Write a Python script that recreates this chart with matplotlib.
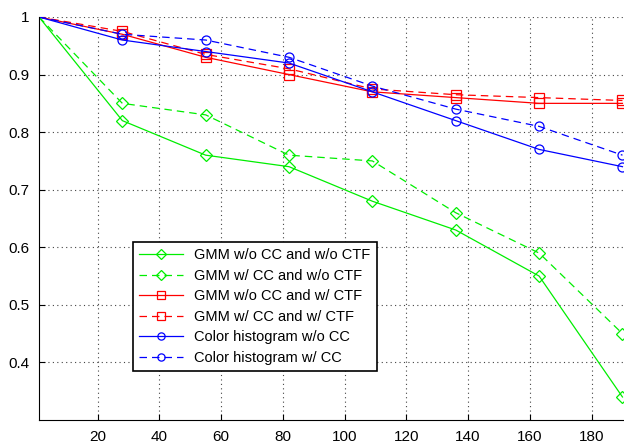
import matplotlib
matplotlib.use("Agg")
import matplotlib.pyplot as plt

x = [1, 28, 55, 82, 109, 136, 163, 190]
gmm_nocc_noctf = [1.0, 0.82, 0.76, 0.74, 0.68, 0.63, 0.55, 0.34]
gmm_cc_noctf = [1.0, 0.85, 0.83, 0.76, 0.75, 0.66, 0.59, 0.45]
gmm_nocc_ctf = [1.0, 0.97, 0.93, 0.90, 0.87, 0.86, 0.85, 0.85]
gmm_cc_ctf = [1.0, 0.975, 0.935, 0.91, 0.875, 0.865, 0.86, 0.855]
hist_nocc = [1.0, 0.96, 0.94, 0.92, 0.87, 0.82, 0.77, 0.74]
hist_cc = [1.0, 0.97, 0.96, 0.93, 0.88, 0.84, 0.81, 0.76]
labels = ["GMM w/o CC and w/o CTF", "GMM w/ CC and w/o CTF",
          "GMM w/o CC and w/ CTF", "GMM w/ CC and w/ CTF",
          "Color histogram w/o CC", "Color histogram w/ CC"]

plt.rcParams["font.family"] = ["Liberation Sans", "DejaVu Sans"]

fig = plt.figure(figsize=(6.24, 4.48), dpi=100)
ax = fig.add_axes([39 / 624, 28 / 448, 585 / 624, 403 / 448])

series = [
    (gmm_nocc_noctf, "#00ee00", "-", "D"),
    (gmm_cc_noctf, "#00ee00", "--", "D"),
    (gmm_nocc_ctf, "#ff0000", "-", "s"),
    (gmm_cc_ctf, "#ff0000", "--", "s"),
    (hist_nocc, "#0000ff", "-", "o"),
    (hist_cc, "#0000ff", "--", "o"),
]
for (y, c, ls, m), lab in zip(series, labels):
    ax.plot(x, y, color=c, ls=ls, lw=0.9, marker=m, markersize=6.5 if m != "D" else 6,
            markerfacecolor="none", markeredgecolor=c, markeredgewidth=0.9,
            markevery=slice(1, None), label=lab, dashes=(6, 4) if ls == "--" else (None, None))

ax.set_xlim(1, 190.5)
ax.set_ylim(0.3, 1.0)
ax.set_xticks(range(20, 181, 20))
ax.set_yticks([0.4, 0.5, 0.6, 0.7, 0.8, 0.9, 1.0])
ax.set_yticklabels(["0.4", "0.5", "0.6", "0.7", "0.8", "0.9", "1"])
ax.tick_params(direction="in", labelsize=11, length=4, pad=7)
ax.grid(True, ls=(0, (1, 3)), color="#444444", lw=0.8)
ax.spines["top"].set_visible(False)
ax.spines["right"].set_visible(False)

leg = ax.legend(loc="lower left", bbox_to_anchor=(0.161, 0.122), borderaxespad=0,
                fancybox=False, edgecolor="black", framealpha=1, fontsize=10.5,
                handlelength=3.0, labelspacing=0.45, markerscale=0.8)
leg.get_frame().set_linewidth(1.2)

fig.savefig("out.png", dpi=100)
